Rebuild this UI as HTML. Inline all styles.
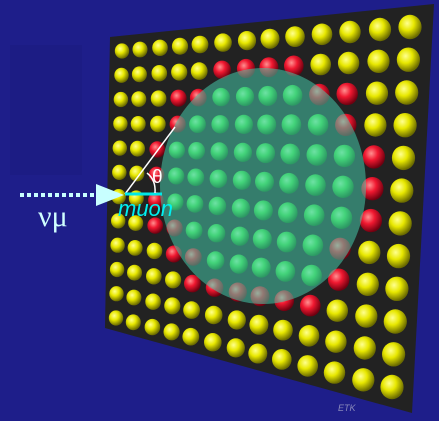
<!DOCTYPE html>
<html><head><meta charset="utf-8"><style>
html,body{margin:0;padding:0;background:#1e1e8a;}
svg{display:block;}
</style></head><body>
<svg id="s" width="439" height="421" viewBox="0 0 439 421" xmlns="http://www.w3.org/2000/svg">
<defs>
<radialGradient id="gy" cx="0.38" cy="0.35" r="0.65"><stop offset="0" stop-color="#ffff90"/><stop offset="0.45" stop-color="#e8e800"/><stop offset="1" stop-color="#6a6a00"/></radialGradient>
<radialGradient id="gr" cx="0.38" cy="0.35" r="0.65"><stop offset="0" stop-color="#ff9090"/><stop offset="0.45" stop-color="#f01830"/><stop offset="1" stop-color="#700010"/></radialGradient>
<radialGradient id="gg" cx="0.38" cy="0.35" r="0.65"><stop offset="0" stop-color="#a0ffa0"/><stop offset="0.45" stop-color="#40e040"/><stop offset="1" stop-color="#106010"/></radialGradient>
</defs>
<rect width="439" height="421" fill="#1e1e8a"/>
<rect x="10" y="45" width="72" height="130" fill="#1c1c84"/>
<polygon points="110,37 434,4 412,413 105,328" fill="#222222"/>
<g id="spheres"></g>
<ellipse cx="263" cy="186" rx="103" ry="118" fill="rgba(70,200,170,0.55)"/>
<line x1="20" y1="195" x2="96" y2="195" stroke="#c8ffff" stroke-width="4" stroke-dasharray="4,3"/>
<polygon points="96,184 124,195 96,206" fill="#c8ffff"/>
<line x1="125" y1="194" x2="175" y2="127" stroke="#ffffff" stroke-width="1.5"/>
<line x1="125" y1="194" x2="162" y2="194" stroke="#00e8e8" stroke-width="3"/>
<path d="M147,173 Q156,180 155,193" fill="none" stroke="#ffffff" stroke-width="1.5"/>
<text x="152" y="183" font-family="Liberation Sans, sans-serif" font-size="19" fill="#ffffff">θ</text>
<text x="118" y="216" font-family="Liberation Sans, sans-serif" font-style="italic" font-size="22" fill="#00f0f0">muon</text>
<text x="38" y="226" font-family="Liberation Serif, serif" font-size="30" fill="#d0ffff">νμ</text>
<text x="338" y="411" font-family="Liberation Sans, sans-serif" font-style="italic" font-size="9" fill="#8888bb">ETK</text>
</svg>
<script>
const colFrac=[0,18,38,58,78,101,125,148,173,200,228,258,288];
const rowsN=12;
const TL=[122,51],TR=[410,27],BL=[116,318],BR=[392,387];
const ring={cx:263,cy:186,rx:103,ry:118};
const g=document.getElementById('spheres');
const NS='http://www.w3.org/2000/svg';
for(let r=0;r<rowsN;r++){
  const v=r/(rowsN-1);
  for(let c=0;c<colFrac.length;c++){
    const u=colFrac[c]/288;
    const x=(1-u)*(1-v)*TL[0]+u*(1-v)*TR[0]+(1-u)*v*BL[0]+u*v*BR[0];
    const y=(1-u)*(1-v)*TL[1]+u*(1-v)*TR[1]+(1-u)*v*BL[1]+u*v*BR[1];
    const rad=7.6+u*4.6;
    const d=Math.hypot((x-ring.cx)/ring.rx,(y-ring.cy)/ring.ry);
    let f='url(#gy)';
    if(d<0.9) f='url(#gg)'; else if(d<1.14) f='url(#gr)';
    const e=document.createElementNS(NS,'ellipse');
    e.setAttribute('cx',x.toFixed(1));e.setAttribute('cy',y.toFixed(1));
    e.setAttribute('rx',(rad*0.95).toFixed(1));e.setAttribute('ry',rad.toFixed(1));
    e.setAttribute('fill',f);
    
    
    g.appendChild(e);
  }
}
</script>
</body></html>
